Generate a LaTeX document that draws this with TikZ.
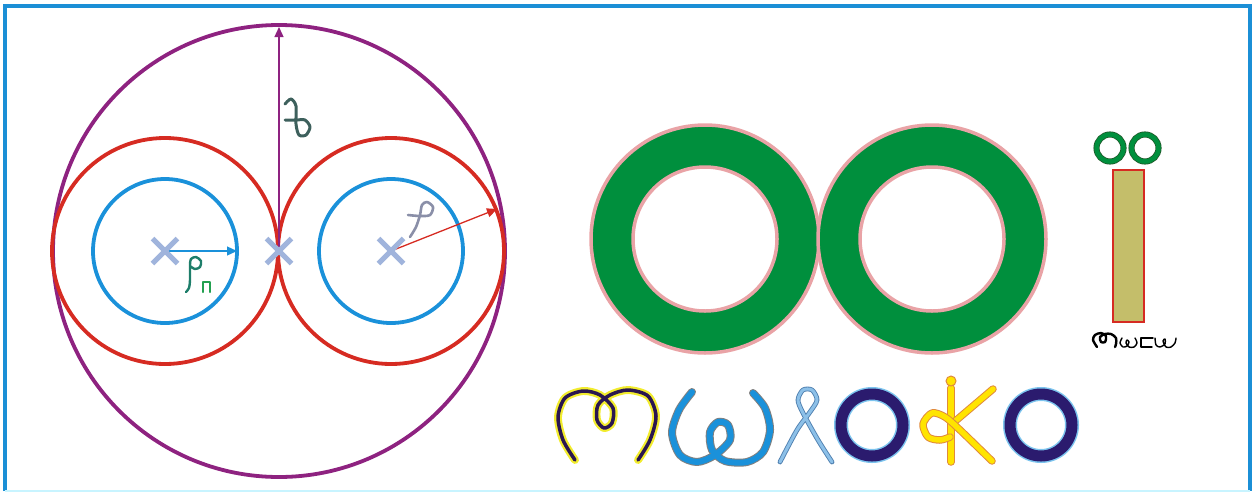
\documentclass[tikz,border=0pt]{standalone}
\usetikzlibrary{arrows.meta,shapes.misc}
\definecolor{mypurple}{HTML}{8E2280}
\definecolor{myred}{HTML}{D62B22}
\definecolor{myblue}{HTML}{1A91DA}
\definecolor{mycross}{HTML}{A0B4DC}
\definecolor{mygreen}{HTML}{008F3D}
\definecolor{mydkgreen}{HTML}{1E5A2A}
\definecolor{mypink}{HTML}{E9A3A6}
\definecolor{myolive}{HTML}{C4BE6A}
\definecolor{mynavy}{HTML}{2B1B6E}
\definecolor{myhalo}{HTML}{7CC4EE}
\definecolor{myink}{HTML}{2A1650}
\definecolor{myyellow}{HTML}{F2EC2E}
\definecolor{mygold}{HTML}{FFE400}
\definecolor{myorange}{HTML}{E08A3C}
\definecolor{myslate}{HTML}{3D605C}
\definecolor{myteal}{HTML}{1E7E6A}
\definecolor{mylgreen}{HTML}{23A050}
\definecolor{mygrey}{HTML}{8A8FA8}
\definecolor{mysky}{HTML}{8CC0E8}
\definecolor{mysteel}{HTML}{5080B0}
\definecolor{myframe}{HTML}{1B8FD6}
\definecolor{mycyan}{HTML}{C8F4FF}

\begin{document}
\begin{tikzpicture}[x=1pt, y=-1pt,
    bigcirc/.style={draw=mypurple, line width=3.8pt},
    redcirc/.style={draw=myred, line width=3.8pt},
    bluecirc/.style={draw=myblue, line width=3.8pt},
    xcross/.style={cross out, draw=mycross, line width=5pt, minimum size=20pt, inner sep=0pt},
    radarrow/.style={line width=1.3pt, -{Triangle[length=10pt,width=9pt]}},
    ring/.style={fill=mygreen, draw=mypink, line width=3.5pt, even odd rule},
    glyph/.style={line cap=round, line join=round},
    lbl/.style={glyph, line width=3pt}
  ]
  \useasboundingbox (0,0) rectangle (1257,493);
  % frame
  \draw[myframe, line width=3.5pt] (5,491) -- (5,6) -- (1250,6) -- (1250,491);
  \draw[mycyan, line width=2pt] (5,491) -- (1250,491);

  % circles
  \coordinate (mid) at (279,251);
  \coordinate (lc) at (165,251);
  \coordinate (rc) at (391,251);
  \draw[bigcirc] (mid) circle (226pt);
  \draw[redcirc] (lc) circle (113pt);
  \draw[redcirc] (rc) circle (113pt);
  \draw[bluecirc] (lc) circle (72pt);
  \draw[bluecirc] (rc) circle (72pt);

  \coordinate (toptip) at (279,27);
  \coordinate (bluetip) at (237,251);
  \coordinate (redtip) at (497,209);
  \draw[radarrow, mypurple] (mid) -- (toptip);
  \draw[radarrow, myblue] (lc) -- (bluetip);
  \draw[radarrow, myred] (rc) -- (redtip);

  \node[xcross] (xl) at (lc) {};
  \node[xcross] (xm) at (mid) {};
  \node[xcross] (xr) at (rc) {};

  % labels
  \draw[lbl, myslate] plot[smooth] coordinates {(285,104) (291,99) (296,106) (296,124) (299,135) (306,135) (310,127) (305,120) (296,120) (285,120)};
  \draw[lbl, myteal, line width=2.4pt] plot[smooth] coordinates {(186,292) (189,288) (190,280) (190,265) (191,259) (196,257) (201,261) (200,267) (195,269) (190,266)};
  \draw[lbl, mylgreen, line width=2.4pt] (203,292) -- (203,282) -- (210,282) -- (210,292);
  \draw[lbl, mygrey, line width=2.6pt] plot[smooth] coordinates {(410,237) (416,227) (420,215) (422,205) (427,202) (433,207) (430,215) (420,216) (408,215)};

  % rings
  \path[ring] (705,239) circle (114pt) (705,239) circle (72pt);
  \path[ring] (932,239) circle (114pt) (932,239) circle (72pt);

  \draw[draw=mydkgreen, double=mygreen, line width=0.8pt, double distance=4.5pt] (1110,148) circle (13.5pt);
  \draw[draw=mydkgreen, double=mygreen, line width=0.8pt, double distance=4.5pt] (1145,148) circle (13.5pt);
  \draw[fill=myolive, draw=myred, line width=1.5pt] (1113,170) rectangle (1144,322);

  % small word
  \draw[glyph, line width=2.4pt] plot[smooth] coordinates {(1097,347) (1093,340) (1095,335) (1101,333) (1106,336) (1105,342) (1101,342) (1100,337) (1105,334) (1111,334) (1116,338) (1116,344) (1115,347)};
  \draw[glyph, line width=1.4pt] plot[smooth] coordinates {(1122,338) (1120,343) (1123,347) (1127,346) (1129,342) (1127,340) (1126,343) (1129,347) (1134,347) (1137,343) (1135,338)};
  \draw[glyph, line width=1.4pt] (1153,338) -- (1141,338) -- (1141,347) -- (1152,347);
  \draw[glyph, line width=1.4pt] plot[smooth] coordinates {(1155,338) (1156,345) (1160,347) (1165,344) (1165,339) (1163,341) (1166,347) (1171,347) (1175,343) (1176,338)};

  % big word
  \draw[glyph, draw=myyellow, double=myink, line width=2.2pt, double distance=3.5pt] plot[smooth] coordinates {(575,460) (563,440) (558,417) (565,398) (583,391) (600,395) (613,408) (612,423) (604,428) (597,420) (598,405) (610,395) (628,390) (648,396) (656,416) (650,440) (638,460)};
  \draw[glyph, draw=gray, double=myblue, line width=1pt, double distance=6pt] plot[smooth] coordinates {(692,392) (679,410) (672,433) (680,455) (697,462) (715,455) (730,440) (728,425) (718,422) (710,432) (712,450) (725,461) (747,462) (763,452) (770,430) (765,408) (753,393)};
  \draw[glyph, draw=mysteel, double=mysky, line width=0.9pt, double distance=3pt] plot[smooth] coordinates {(780,462) (797,430) (810,412) (817,400) (812,390) (803,390) (798,400) (803,413) (818,440) (832,462)};
  \draw[draw=myhalo, double=mynavy, line width=1.5pt, double distance=11pt] (872,425) circle (31pt);
  \draw[glyph, draw=myorange, double=mygold, line width=1pt, double distance=5.5pt] (951,388) -- (951,462);
  \draw[glyph, draw=myorange, double=mygold, line width=1pt, double distance=5.5pt] (953,423) -- (993,389);
  \draw[glyph, draw=myorange, double=mygold, line width=1pt, double distance=5.5pt] plot[smooth] coordinates {(992,461) (960,430) (945,417) (932,413) (923,424) (928,437) (940,440) (950,437)};
  \draw[fill=mygold, draw=myorange, line width=1pt] (951,381) circle (5pt);
  \draw[draw=myhalo, double=mynavy, line width=1.5pt, double distance=11pt] (1041,425) circle (31pt);
\end{tikzpicture}
\end{document}
